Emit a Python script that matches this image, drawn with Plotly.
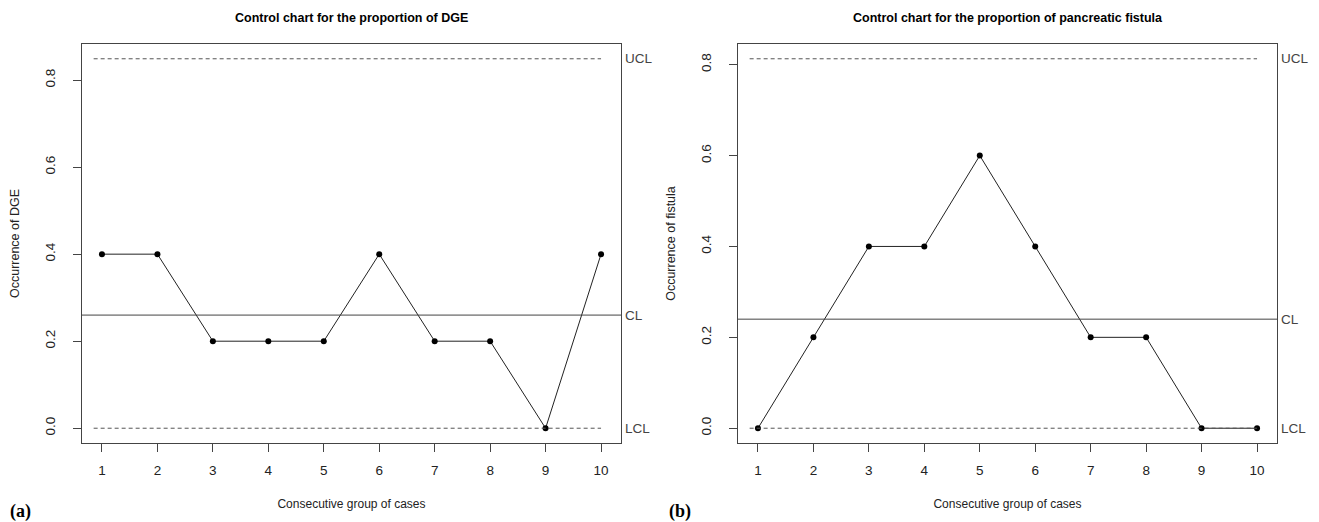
import plotly.graph_objects as go
from plotly.subplots import make_subplots

groups = [1, 2, 3, 4, 5, 6, 7, 8, 9, 10]
dge = [0.4, 0.4, 0.2, 0.2, 0.2, 0.4, 0.2, 0.2, 0.0, 0.4]
fistula = [0.0, 0.2, 0.4, 0.4, 0.6, 0.4, 0.2, 0.2, 0.0, 0.0]
ucl = [0.849, 0.813]
cl = [0.26, 0.24]
lcl = [0.0, 0.0]
titles = ["Control chart for the proportion of DGE",
          "Control chart for the proportion of pancreatic fistula"]
ytitles = ["Occurrence of DGE", "Occurrence of fistula"]
panel_tags = ["(a)", "(b)"]
yticks = [0.0, 0.2, 0.4, 0.6, 0.8]

OFF = 8  # page body margin
W, H = 1319 - OFF, 522 - OFF
FONT = "Liberation Sans, Arial, sans-serif"


def px(X):
    return (X - OFF) / W


def py(Y):
    return 1 - (Y - OFF) / H


fig = make_subplots(rows=1, cols=2)
series = [dge, fistula]

domains_x = [(px(82), px(621)), (px(738), px(1277))]
dom_y = (py(443), py(44))

for i in range(2):
    col = i + 1
    vals = series[i]
    fig.add_trace(go.Scatter(
        x=groups, y=vals, mode="lines+markers",
        line=dict(color="#222", width=1),
        marker=dict(color="black", size=6),
        showlegend=False), row=1, col=col)
    lo = min(lcl[i], min(vals))
    hi = max(ucl[i], max(vals))
    pad = 0.04 * (hi - lo)
    xa = "x" if i == 0 else "x2"
    ya = "y" if i == 0 else "y2"
    for val in [ucl[i], lcl[i]]:
        fig.add_shape(type="line", xref=xa, yref=ya, x0=0.85, x1=10.0,
                      y0=val, y1=val,
                      line=dict(color="#555", width=1, dash="4px,3px"))
    fig.add_shape(type="line", xref=xa + " domain", yref=ya, x0=0, x1=1,
                  y0=cl[i], y1=cl[i], line=dict(color="#444", width=1))
    for val, lab in [(ucl[i], "UCL"), (cl[i], "CL"), (lcl[i], "LCL")]:
        fig.add_annotation(xref=xa + " domain", yref=ya, x=1.0, y=val, text=lab,
                           showarrow=False, xanchor="left", xshift=2,
                           font=dict(family=FONT, size=13.5, color="#444"))
    fig.update_xaxes(row=1, col=col, domain=list(domains_x[i]),
                     range=[0.64, 10.36], tickvals=groups,
                     ticks="outside", ticklen=8, tickcolor="#444",
                     ticklabelstandoff=7,
                     showline=True, linecolor="#444", mirror=True, linewidth=1,
                     showgrid=False, zeroline=False,
                     tickfont=dict(family=FONT, size=13.5, color="#222"),
                     title=dict(text="Consecutive group of cases", standoff=22,
                                font=dict(family=FONT, size=12, color="#222")))
    fig.update_yaxes(row=1, col=col, domain=list(dom_y),
                     range=[lo - pad, hi + pad], tickvals=yticks,
                     tickformat=".1f", tickangle=-90,
                     ticks="outside", ticklen=8, tickcolor="#444",
                     ticklabelstandoff=13,
                     showline=True, linecolor="#444", mirror=True, linewidth=1,
                     showgrid=False, zeroline=False,
                     tickfont=dict(family=FONT, size=13.5, color="#222"),
                     title=dict(text=ytitles[i], standoff=20,
                                font=dict(family=FONT, size=12.5, color="#222")))
    cx = (domains_x[i][0] + domains_x[i][1]) / 2
    fig.add_annotation(xref="paper", yref="paper", x=cx, y=py(18),
                       text="<b>" + titles[i] + "</b>", showarrow=False,
                       xanchor="center", yanchor="middle",
                       font=dict(family=FONT, size=12.5, color="black"))
    tagx = [px(8), px(667)][i]
    fig.add_annotation(xref="paper", yref="paper", x=tagx, y=py(511),
                       text="<b>" + panel_tags[i] + "</b>", showarrow=False,
                       xanchor="left", yanchor="middle",
                       font=dict(family="Liberation Serif, Times New Roman, serif",
                                 size=18, color="black"))

fig.update_layout(width=W, height=H, margin=dict(l=0, r=0, t=0, b=0),
                  plot_bgcolor="white", paper_bgcolor="white",
                  showlegend=False)
fig.write_html("out.html")
